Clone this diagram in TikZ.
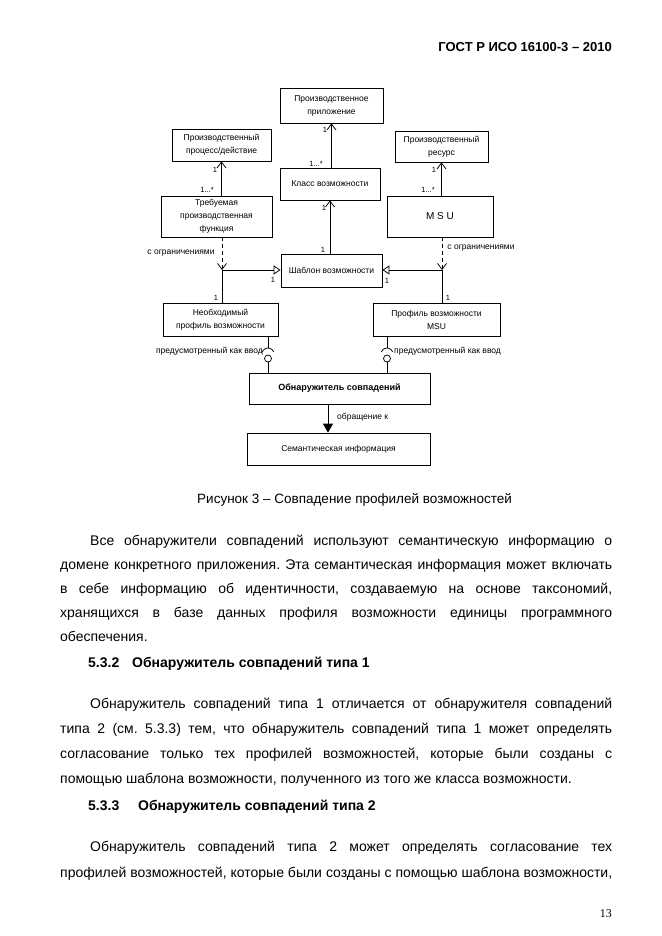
\documentclass[tikz,border=0pt]{standalone}
\usepackage{fontspec}
\setmainfont{Liberation Sans}
\newfontfamily\pagenumfont{Liberation Serif}
\usetikzlibrary{arrows.meta}
\frenchspacing
\begin{document}
\begin{tikzpicture}[x=1pt,y=-1pt,
  box/.style={draw,line width=0.75pt,inner sep=1pt,align=center,font=\fontsize{8.5}{13}\selectfont},
  lbl/.style={inner sep=0pt,font=\fontsize{8.5}{10}\selectfont},
  num/.style={inner sep=0pt,font=\fontsize{7.5}{9}\selectfont},
  conn/.style={line width=0.75pt},
  vtip/.style={-{Straight Barb[length=6pt,width=9pt,line width=0.75pt]}},
  ttip/.style={-{Triangle[open,length=7pt,width=9pt,line width=0.75pt]}},
  ftip/.style={-{Triangle[length=9pt,width=10pt]}},
  ball/.style={draw,circle,line width=0.75pt,minimum size=7pt,inner sep=0pt},
  body/.style={anchor=base west,inner sep=0pt,font=\fontsize{14}{17}\selectfont},
  head/.style={anchor=base west,inner sep=0pt,font=\bfseries\fontsize{14}{17}\selectfont},
]
\fill[white] (0,0) rectangle (661,936);
\useasboundingbox (0,0) rectangle (661,936);

% header
\node[anchor=base east,inner sep=0pt,font=\bfseries\fontsize{13}{15}\selectfont] (hdr) at (612,52) {ГОСТ Р ИСО 16100-3 – 2010};

% boxes
\node[box,minimum width=103pt,minimum height=35pt] (app) at (331.5,105.5) {Производственное\\приложение};
\node[box,minimum width=99pt,minimum height=32pt] (proc) at (221.5,145) {Производственный\\процесс/действие};
\node[box,minimum width=93pt,minimum height=31pt] (res) at (441.5,146.5) {Производственный\\ресурс};
\node[box,minimum width=100pt,minimum height=32pt] (cls) at (330,184) {Класс возможности};
\node[box,minimum width=111pt,minimum height=41pt] (req) at (216.5,216.5) {Требуемая\\производственная\\функция};
\node[box,minimum width=106pt,minimum height=41pt,font=\fontsize{10}{12}\selectfont] (msu) at (440,216.5) {M S U};
\node[box,minimum width=101pt,minimum height=33pt] (tmpl) at (331.5,270.5) {Шаблон возможности};
\node[box,minimum width=115pt,minimum height=33pt] (need) at (220.5,319.5) {Необходимый\\профиль возможности};
\node[box,minimum width=127pt,minimum height=33pt] (pmsu) at (436.5,319.5) {Профиль возможности\\MSU};
\node[box,minimum width=181pt,minimum height=31pt,font=\bfseries\fontsize{9}{11}\selectfont] (match) at (339.5,388.5) {Обнаружитель совпадений};
\node[box,minimum width=183pt,minimum height=32pt] (sem) at (338.5,449) {Семантическая информация};

% upper associations
\draw[conn,vtip] (proc.south |- req.north) -- (proc.south);
\draw[conn,vtip] (app.south |- cls.north) -- (app.south);
\draw[conn,vtip] (res.south |- msu.north) -- (res.south);
\draw[conn,vtip] (cls.south |- tmpl.north) -- (cls.south);

\node[num] (n1) at (215,170) {1};
\node[num] (n2) at (207,190) {1...*};
\node[num] (n3) at (325,130) {1};
\node[num] (n4) at (316,164) {1...*};
\node[num] (n5) at (434,170) {1};
\node[num] (n6) at (428,190) {1...*};
\node[num] (n7) at (324,208) {1};
\node[num] (n8) at (323,250) {1};

% junctions
\coordinate (jl) at (222,270);
\coordinate (jr) at (442,270);
\draw[conn,dash pattern=on 4pt off 3pt,vtip] (jl |- req.south) -- (jl);
\draw[conn,dash pattern=on 4pt off 3pt,vtip] (jr |- msu.south) -- (jr);
\draw[conn,ttip] (jl) -- (jl -| tmpl.west);
\draw[conn,ttip] (jr) -- (jr -| tmpl.east);
\draw[conn] (jl) -- (jl |- need.north);
\draw[conn] (jr) -- (jr |- pmsu.north);

\node[lbl] (c1) at (181,253) {с ограничениями};
\node[lbl] (c2) at (481,248) {с ограничениями};
\node[num] (n9) at (273,280) {1};
\node[num] (n10) at (387,281) {1};
\node[num] (n11) at (216,298) {1};
\node[num] (n12) at (448,298) {1};

% lollipops
\coordinate (sl) at (268,354);
\coordinate (sr) at (387,354);
\node[ball] (bl) at (268,358.5) {};
\node[ball] (br) at (387,358.5) {};
\draw[conn] (sl |- need.south) -- ([yshift=6pt]sl);
\draw[conn] (sr |- pmsu.south) -- ([yshift=6pt]sr);
\draw[conn] ([shift={(200:6)}]sl) arc[start angle=200,end angle=340,radius=6];
\draw[conn] ([shift={(200:6)}]sr) arc[start angle=200,end angle=340,radius=6];
\draw[conn] (bl.south) -- (bl.south |- match.north);
\draw[conn] (br.south) -- (br.south |- match.north);
\node[lbl,anchor=east] (p1) at (263,351) {предусмотренный как ввод};
\node[lbl,anchor=west] (p2) at (394,351) {предусмотренный как ввод};

% access
\coordinate (ax) at (328,0);
\draw[conn,ftip] (ax |- match.south) -- (ax |- sem.north);
\node[lbl,anchor=west] (ob) at (337,417) {обращение к};

% caption
\node[body,font=\fontsize{13.5}{16}\selectfont] (cap) at (197,503) {Рисунок 3 – Совпадение профилей возможностей};

% paragraph 1
\node[body] (t1) at (90,545) {\makebox[522pt][s]{Все обнаружители совпадений используют семантическую информацию о}};
\node[body] (t2) at (60,569) {\makebox[552pt][s]{домене конкретного приложения. Эта семантическая информация может включать}};
\node[body] (t3) at (60,593) {\makebox[552pt][s]{в себе информацию об идентичности, создаваемую на основе таксономий,}};
\node[body] (t4) at (60,617) {\makebox[552pt][s]{хранящихся в базе данных профиля возможности единицы программного}};
\node[body] (t5) at (60,641) {обеспечения.};

% heading 5.3.2
\node[head] (h1a) at (88,667) {5.3.2};
\node[head] (h1b) at (132,667) {Обнаружитель совпадений типа 1};

% paragraph 2
\node[body] (u1) at (90,708) {\makebox[522pt][s]{Обнаружитель совпадений типа 1 отличается от обнаружителя совпадений}};
\node[body] (u2) at (60,733) {\makebox[552pt][s]{типа 2 (см. 5.3.3) тем, что обнаружитель совпадений типа 1 может определять}};
\node[body] (u3) at (60,758) {\makebox[552pt][s]{согласование только тех профилей возможностей, которые были созданы с}};
\node[body] (u4) at (60,783) {помощью шаблона возможности, полученного из того же класса возможности.};

% heading 5.3.3
\node[head] (h2a) at (88,810) {5.3.3};
\node[head] (h2b) at (138,810) {Обнаружитель совпадений типа 2};

% paragraph 3
\node[body] (v1) at (90,851) {\makebox[522pt][s]{Обнаружитель совпадений типа 2 может определять согласование тех}};
\node[body] (v2) at (60,877) {\makebox[552pt][s]{профилей возможностей, которые были созданы с помощью шаблона возможности,}};

% page number
\node[anchor=base east,inner sep=0pt,font=\pagenumfont\fontsize{12}{14}\selectfont] (pg) at (612,917) {13};
\end{tikzpicture}
\end{document}
